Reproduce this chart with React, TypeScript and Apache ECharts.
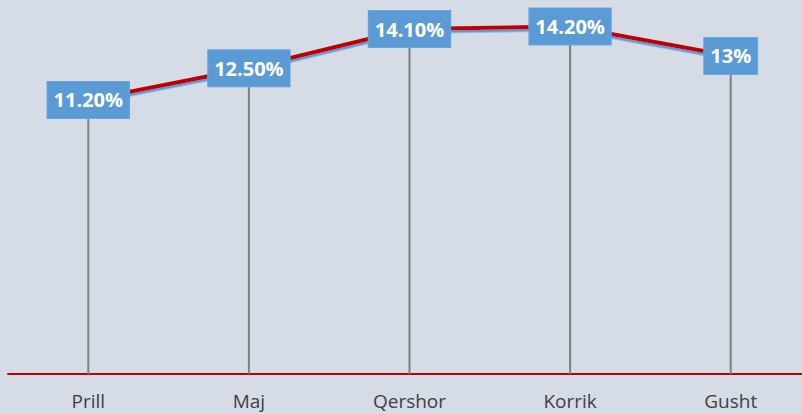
import React, { useEffect, useRef } from "react";
import * as echarts from "echarts";

const categories = ["Prill", "Maj", "Qershor", "Korrik", "Gusht"];
const values = [11.2, 12.5, 14.1, 14.2, 13];
const valueLabels = ["11.20%", "12.50%", "14.10%", "14.20%", "13%"];

export default function App() {
  const ref = useRef<HTMLDivElement>(null);
  useEffect(() => {
    document.body.style.margin = "0";
    document.body.style.overflow = "hidden";
    document.body.style.background = "#d6dce5";
    const chart = echarts.init(ref.current!, null, { renderer: "svg" });
    chart.setOption({
      animation: false,
      backgroundColor: "#d6dce5",
      grid: { left: 8, width: 803, top: 7, height: 367, containLabel: false },
      xAxis: {
        type: "category",
        data: categories,
        boundaryGap: true,
        axisLine: { show: true, lineStyle: { color: "#c00000", width: 2 } },
        axisTick: { show: false },
        axisLabel: {
          color: "#404040",
          fontSize: 19,
          fontFamily: "Open Sans",
          margin: 17,
        },
      },
      yAxis: {
        type: "value",
        min: 0,
        max: 15,
        show: false,
        splitLine: { show: false },
      },
      series: [
        {
          type: "bar",
          data: values,
          barWidth: 2,
          itemStyle: { color: "#7f7f7f" },
          z: 1,
          silent: true,
        },
        {
          type: "line",
          data: values,
          z: 3,
          symbol: "circle",
          symbolSize: 1,
          itemStyle: { color: "#c00000" },
          lineStyle: {
            color: "#c00000",
            width: 4,
            shadowColor: "#5b9bd5",
            shadowOffsetY: 2.5,
            shadowOffsetX: 0,
            shadowBlur: 0,
          },
          label: {
            show: true,
            position: "inside",
            formatter: (p: any) => valueLabels[p.dataIndex],
            backgroundColor: "#5b9bd5",
            color: "#ffffff",
            fontWeight: "bold",
            fontFamily: "Open Sans",
            fontSize: 20,
            padding: [8, 6, 8, 6],
            borderColor: "#6aa5dc",
            borderWidth: 1,
          },
        },
      ],
    });
    return () => chart.dispose();
  }, []);
  return <div ref={ref} style={{ width: 812, height: 414 }} />;
}
